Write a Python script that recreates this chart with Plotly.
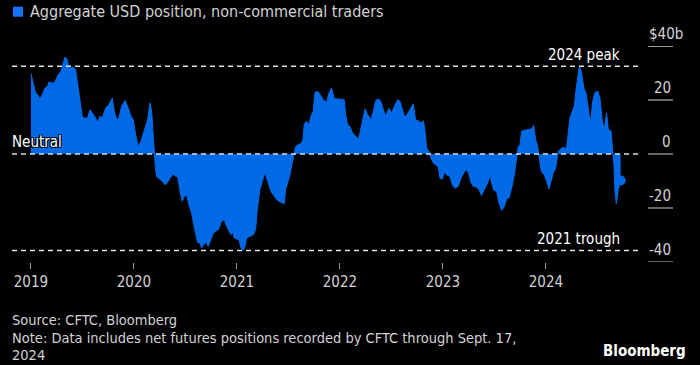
import plotly.graph_objects as go

# Decimal-year dates (weekly CFTC readings, sampled) and net USD position ($bn)
years = [
    2019.000, 2019.023, 2019.045, 2019.065, 2019.087, 2019.110, 2019.136, 2019.159, 2019.175, 2019.201,
    2019.227, 2019.249, 2019.265, 2019.291, 2019.307, 2019.330, 2019.353, 2019.369, 2019.388, 2019.411,
    2019.434, 2019.453, 2019.476, 2019.498, 2019.518, 2019.550, 2019.573, 2019.605, 2019.628, 2019.647,
    2019.670, 2019.693, 2019.725, 2019.757, 2019.790, 2019.809, 2019.832, 2019.854, 2019.880, 2019.913,
    2019.945, 2019.971, 2019.994, 2020.016, 2020.042, 2020.068, 2020.091, 2020.113, 2020.133, 2020.155,
    2020.172, 2020.188, 2020.197, 2020.210, 2020.220, 2020.252, 2020.275, 2020.301, 2020.327, 2020.350,
    2020.382, 2020.405, 2020.424, 2020.447, 2020.469, 2020.489, 2020.511, 2020.534, 2020.560, 2020.583,
    2020.602, 2020.618, 2020.641, 2020.657, 2020.676, 2020.699, 2020.722, 2020.748, 2020.770, 2020.793,
    2020.819, 2020.851, 2020.877, 2020.900, 2020.922, 2020.942, 2020.955, 2020.974, 2020.997, 2021.019,
    2021.039, 2021.061, 2021.078, 2021.094, 2021.126, 2021.159, 2021.181, 2021.197, 2021.223, 2021.246,
    2021.272, 2021.298, 2021.330, 2021.362, 2021.395, 2021.427, 2021.460, 2021.472, 2021.492, 2021.515,
    2021.537, 2021.553, 2021.570, 2021.595, 2021.621, 2021.641, 2021.654, 2021.676, 2021.699, 2021.718,
    2021.741, 2021.757, 2021.783, 2021.806, 2021.838, 2021.870, 2021.893, 2021.919, 2021.945, 2021.984,
    2022.016, 2022.042, 2022.055, 2022.074, 2022.097, 2022.120, 2022.146, 2022.178, 2022.194, 2022.217,
    2022.243, 2022.269, 2022.301, 2022.324, 2022.347, 2022.372, 2022.398, 2022.421, 2022.444, 2022.476,
    2022.502, 2022.528, 2022.560, 2022.583, 2022.605, 2022.625, 2022.647, 2022.670, 2022.689, 2022.712,
    2022.735, 2022.760, 2022.786, 2022.809, 2022.825, 2022.841, 2022.864, 2022.883, 2022.906, 2022.929,
    2022.955, 2022.971, 2022.994, 2023.013, 2023.036, 2023.068, 2023.091, 2023.117, 2023.149, 2023.175,
    2023.198, 2023.220, 2023.246, 2023.272, 2023.295, 2023.327, 2023.350, 2023.375, 2023.401, 2023.434,
    2023.456, 2023.472, 2023.495, 2023.521, 2023.544, 2023.570, 2023.595, 2023.618, 2023.641, 2023.667,
    2023.693, 2023.715, 2023.731, 2023.748, 2023.764, 2023.796, 2023.828, 2023.861, 2023.880, 2023.900,
    2023.919, 2023.932, 2023.951, 2023.964, 2023.984, 2024.006, 2024.029, 2024.049, 2024.071, 2024.094,
    2024.110, 2024.120, 2024.146, 2024.168, 2024.184, 2024.201, 2024.217, 2024.233, 2024.256, 2024.275,
    2024.288, 2024.307, 2024.324, 2024.340, 2024.356, 2024.372, 2024.388, 2024.405, 2024.421, 2024.437,
    2024.453, 2024.476, 2024.502, 2024.524, 2024.547, 2024.567, 2024.589, 2024.605, 2024.631, 2024.647,
    2024.660, 2024.670, 2024.683, 2024.702, 2024.725,
]
usd_position = [
    29.8, 26.3, 22.6, 22.0, 20.4, 22.0, 24.4, 25.0, 26.7, 26.3,
    26.3, 28.1, 29.4, 30.6, 33.0, 35.9, 34.9, 31.9, 31.9, 32.2,
    31.2, 26.3, 20.7, 14.0, 13.3, 13.3, 16.4, 14.6, 13.3, 11.7,
    14.0, 13.3, 17.0, 18.3, 20.7, 15.8, 12.7, 13.3, 17.7, 19.8,
    17.0, 14.0, 12.7, 7.2, 2.8, 4.7, 7.8, 10.9, 12.7, 18.9,
    15.8, 6.5, 0.0, -5.8, -8.3, -9.3, -10.1, -11.4, -10.5, -8.9,
    -7.4, -8.3, -8.3, -13.8, -17.5, -15.7, -15.1, -18.8, -21.9, -26.8,
    -29.9, -32.7, -33.0, -34.8, -33.6, -32.7, -34.2, -31.1, -29.3, -28.6,
    -28.0, -24.9, -24.3, -26.8, -28.6, -29.9, -28.6, -31.1, -31.5, -31.7,
    -34.8, -35.7, -34.2, -31.1, -30.5, -29.9, -28.0, -20.6, -13.2, -10.1,
    -6.8, -10.1, -13.8, -15.7, -17.2, -17.9, -18.4, -13.2, -10.7, -7.7,
    -3.3, 0.0, 2.8, 3.5, 3.8, 5.3, 11.2, 12.1, 10.9, 14.0,
    15.8, 22.8, 23.2, 22.0, 20.1, 19.1, 22.6, 24.4, 20.4, 20.4,
    20.1, 20.1, 14.6, 10.9, 10.2, 8.0, 6.8, 5.6, 7.8, 12.7,
    16.7, 14.6, 12.7, 15.8, 19.8, 20.4, 19.5, 16.4, 14.2, 16.9,
    15.2, 17.7, 20.1, 19.5, 17.0, 14.0, 14.2, 15.8, 17.4, 18.6,
    12.5, 12.3, 11.5, 12.3, 9.0, 2.2, 1.0, -1.5, -3.3, -4.0,
    -4.8, -8.9, -9.3, -6.8, -7.7, -8.3, -11.4, -12.7, -11.9, -8.9,
    -7.0, -5.8, -6.8, -10.5, -12.0, -12.2, -13.2, -15.4, -13.2, -10.7,
    -7.7, -10.7, -13.5, -13.8, -18.1, -20.9, -19.5, -16.7, -16.3, -12.6,
    -7.7, -0.9, 2.8, 3.5, 8.4, 8.8, 9.0, 9.3, 10.7, 5.3,
    2.8, -0.2, -5.8, -7.0, -7.7, -10.1, -13.0, -10.1, -7.0, -5.2,
    -2.1, 1.0, 1.9, 2.6, 1.9, 2.8, 7.8, 13.3, 15.8, 17.7,
    22.6, 27.5, 32.5, 31.0, 27.5, 23.8, 22.8, 18.3, 14.2, 12.1,
    19.5, 22.8, 23.2, 20.7, 12.1, 9.3, 15.2, 9.0, 8.6, 1.6,
    -4.0, -13.8, -18.4, -13.2, -9.8,
]

year_ticks = [2019, 2020, 2021, 2022, 2023, 2024]
y_ticks = [40, 20, 0, -20, -40]
y_tick_labels = ["$40b", "20", "0", "-20", "-40"]

ref_values = [32.5, 0.0, -35.7]
ref_labels = ["2024 peak", "Neutral", "2021 trough"]

footer_lines = [
    "Source: CFTC, Bloomberg",
    "Note: Data includes net futures positions recorded by CFTC through Sept. 17,",
    "2024",
]

BLUE = "#0069e6"
TEXT = "#d2d2d2"
FONT = "DejaVu Sans Condensed, Liberation Sans Narrow, Arial Narrow, sans-serif"

# pixel helpers for layout-only placement (plot area: x 12..640, y 46.3..262.3)
def px_x(p):
    return (p - 12) / 628

def px_y(p):
    return (262.3 - p) / 216

fig = go.Figure()
fig.add_trace(go.Scatter(
    x=years, y=usd_position, mode="lines", fill="tozeroy",
    fillcolor=BLUE, line=dict(color=BLUE, width=1), hoverinfo="x+y",
    showlegend=False,
))
fig.add_trace(go.Scatter(
    x=[years[-1]], y=[usd_position[-1]], mode="markers",
    marker=dict(color=BLUE, size=10), showlegend=False, hoverinfo="skip",
))

shapes = []
annotations = []
# reference dashed lines
for v in ref_values:
    shapes.append(dict(type="line", xref="paper", x0=0, x1=1, yref="y", y0=v, y1=v,
                       line=dict(color="#e0e0e0", width=1.5, dash="5px,4px"), layer="above"))
annotations.append(dict(text=ref_labels[0], x=0.972, xref="paper", xanchor="right",
                        y=ref_values[0], yref="y", yanchor="bottom", yshift=0, showarrow=False,
                        font=dict(color="#ffffff", size=15, family=FONT)))
annotations.append(dict(text=ref_labels[1], x=-0.003, xref="paper", xanchor="left",
                        y=ref_values[1], yref="y", yanchor="bottom", yshift=1, showarrow=False,
                        font=dict(color="#ffffff", size=15, family=FONT,
                                  shadow="-1px -1px 0 #000, 1px -1px 0 #000, -1px 1px 0 #000, 1px 1px 0 #000")))
annotations.append(dict(text=ref_labels[2], x=0.972, xref="paper", xanchor="right",
                        y=ref_values[2], yref="y", yanchor="bottom", yshift=0, showarrow=False,
                        font=dict(color="#ffffff", size=15, family=FONT)))

# right-side value scale: short tick lines with labels sitting on them
for v, lab in zip(y_ticks, y_tick_labels):
    shapes.append(dict(type="line", xref="paper", x0=px_x(648), x1=px_x(673), yref="y", y0=v, y1=v,
                       line=dict(color="#8a8a8a" if v != 40 else "#d0d0d0", width=1.5)))
    annotations.append(dict(text=lab, x=px_x(673) if v != 40 else px_x(685), xref="paper", xanchor="right",
                            y=v, yref="y", yanchor="bottom", yshift=1, showarrow=False,
                            font=dict(color=TEXT, size=15, family=FONT)))

# legend
shapes.append(dict(type="rect", xref="paper", yref="paper",
                   x0=px_x(13), x1=px_x(23), y0=px_y(17), y1=px_y(7),
                   fillcolor="#1a73ff", line=dict(width=0)))
annotations.append(dict(text="Aggregate USD position, non-commercial traders",
                        x=px_x(28), xref="paper", xanchor="left",
                        y=px_y(12), yref="paper", yanchor="middle",
                        showarrow=False, font=dict(color=TEXT, size=16, family=FONT)))
# footer
for line, ypix in zip(footer_lines, [320, 338, 355.5]):
    annotations.append(dict(text=line, x=px_x(10), xref="paper", xanchor="left", align="left",
                            y=px_y(ypix), yref="paper", yanchor="middle",
                            showarrow=False, font=dict(color=TEXT, size=14.5, family=FONT)))
annotations.append(dict(text="<b>Bloomberg</b>", x=px_x(688), xref="paper", xanchor="right",
                        y=px_y(351), yref="paper", yanchor="middle",
                        showarrow=False, font=dict(color="#ffffff", size=15, family=FONT)))

fig.update_layout(
    width=700, height=365,
    margin=dict(l=12, r=60, t=46.3, b=102.7),
    paper_bgcolor="#000000", plot_bgcolor="#000000",
    font=dict(family=FONT, color=TEXT, size=15),
    xaxis=dict(range=[2018.816, 2024.913], tickvals=year_ticks, ticktext=[str(y) for y in year_ticks],
               showgrid=False, zeroline=False, showline=False, ticks="outside", ticklen=6,
               tickcolor="#9a9a9a", tickwidth=1, tickfont=dict(color=TEXT, size=15, family=FONT)),
    yaxis=dict(range=[-40, 40], showgrid=False, zeroline=False, showticklabels=False, showline=False),
    shapes=shapes, annotations=annotations,
)

fig.write_html("out.html", config={"displayModeBar": False},
               post_script="document.body.style.margin='0';document.body.style.background='#000';")
